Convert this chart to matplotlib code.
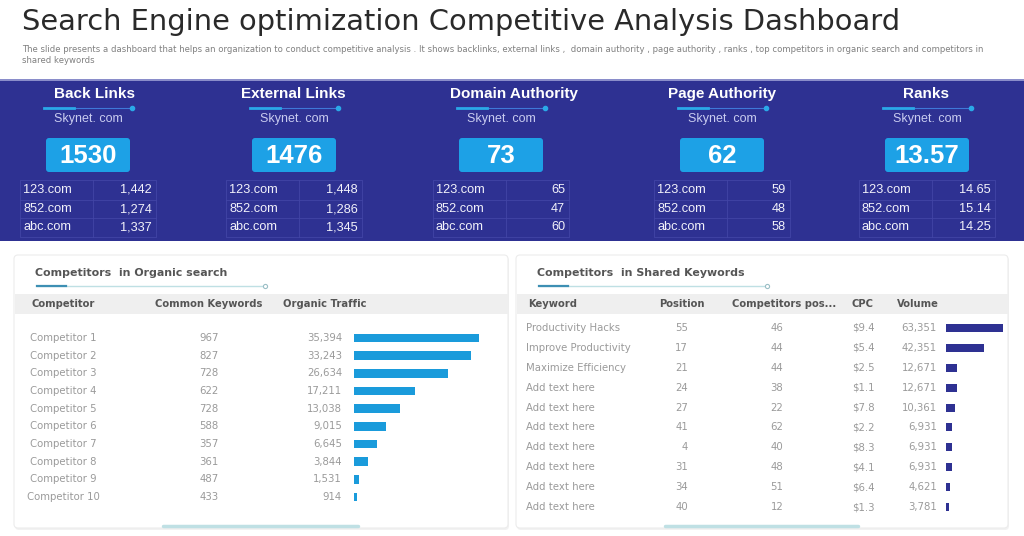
import numpy as np
import matplotlib.pyplot as plt
from matplotlib.patches import FancyBboxPatch, Rectangle

W, H = 1024, 536

title = "Search Engine optimization Competitive Analysis Dashboard"
subtitle = ("The slide presents a dashboard that helps an organization to conduct competitive analysis . It shows backlinks, "
            "external links ,  domain authority , page authority , ranks , top competitors in organic search and competitors in\n"
            "shared keywords")

# metric tiles on the blue band
metric_names = ["Back Links", "External Links", "Domain Authority", "Page Authority", "Ranks"]
own_site = "Skynet. com"
own_values = [1530, 1476, 73, 62, 13.57]
rival_sites = ["123.com", "852.com", "abc.com"]
rival_back = [1442, 1274, 1337]
rival_ext = [1448, 1286, 1345]
rival_da = [65, 47, 60]
rival_pa = [59, 48, 58]
rival_rank = [14.65, 15.14, 14.25]

# competitors in organic search
competitors = ["Competitor 1", "Competitor 2", "Competitor 3", "Competitor 4", "Competitor 5",
               "Competitor 6", "Competitor 7", "Competitor 8", "Competitor 9", "Competitor 10"]
common_keywords = [967, 827, 728, 622, 728, 588, 357, 361, 487, 433]
organic_traffic = [35394, 33243, 26634, 17211, 13038, 9015, 6645, 3844, 1531, 914]

# competitors in shared keywords
keywords = ["Productivity Hacks", "Improve Productivity", "Maximize Efficiency", "Add text here",
            "Add text here", "Add text here", "Add text here", "Add text here", "Add text here", "Add text here"]
position = [55, 17, 21, 24, 27, 41, 4, 31, 34, 40]
comp_position = [46, 44, 44, 38, 22, 62, 40, 48, 51, 12]
cpc = [9.4, 5.4, 2.5, 1.1, 7.8, 2.2, 8.3, 4.1, 6.4, 1.3]
volume = [63351, 42351, 12671, 12671, 10361, 6931, 6931, 6931, 4621, 3781]

BAND = "#2E3192"
CYAN = "#1DA1E6"
GREY_TXT = "#9a9a9a"
HEAD_TXT = "#555555"
ARIAL = "Liberation Sans"

fig = plt.figure(figsize=(W / 100, H / 100), dpi=100)
ax = fig.add_axes([0, 0, 1, 1])
ax.set_xlim(0, W)
ax.set_ylim(H, 0)
ax.axis("off")

# title + description
ax.text(22, 22, title, fontsize=20.8, color="#2a2a2a", va="center", ha="left")
ax.text(22, 55, subtitle, fontsize=6.1, color="#808080", va="center", ha="left", linespacing=1.3)

# blue band
ax.add_patch(Rectangle((0, 79), W, 162, fc=BAND, ec="none"))
ax.plot([0, W], [79.5, 79.5], color="#9da0d6", lw=1.2)

head_x = [95, 293, 514, 722, 926]
body_x = [88, 294, 501, 722, 927]
rival_all = [rival_back, rival_ext, rival_da, rival_pa, rival_rank]


def fmt_num(v):
    if isinstance(v, float):
        return f"{v:.2f}"
    return f"{v:,}"


row_y = [190, 209, 227]
for i, name in enumerate(metric_names):
    hc, bc = head_x[i], body_x[i]
    ax.text(hc, 94, name, fontsize=11, fontweight="bold", color="white", ha="center", va="center", family=ARIAL)
    # little slider under heading
    ax.plot([bc - 44, bc + 44], [108, 108], color="#3f78d8", lw=0.8)
    ax.plot([bc - 44, bc - 14], [108, 108], color="#2aa9e8", lw=2)
    ax.plot(bc + 44, 108, "o", ms=3, color="#2aa9e8")
    ax.text(bc, 119, own_site, fontsize=9, color="#c9ccf0", ha="center", va="center", family=ARIAL)
    ax.add_patch(FancyBboxPatch((bc - 42, 138), 84, 34, boxstyle="round,pad=0,rounding_size=3",
                                fc=CYAN, ec="none"))
    main = f"{own_values[i]:.2f}" if isinstance(own_values[i], float) else str(own_values[i])
    ax.text(bc, 156, main, fontsize=18.5, fontweight="bold", color="white", ha="center", va="center", family=ARIAL)
    # small rival table
    left, right = bc - 68, bc + 68
    ax.add_patch(Rectangle((left, 180), right - left, 57, fc="none", ec="#4245a6", lw=0.6))
    for yy in [199.5, 218]:
        ax.plot([left, right], [yy, yy], color="#4245a6", lw=0.6)
    ax.plot([left + 73, left + 73], [180, 237], color="#4245a6", lw=0.6)
    for j, site in enumerate(rival_sites):
        ax.text(left + 3, row_y[j], site, fontsize=9.2, color="#f2f2fa", ha="left", va="center", family=ARIAL)
        ax.text(right - 4, row_y[j], fmt_num(rival_all[i][j]), fontsize=9.2, color="#f2f2fa",
                ha="right", va="center", family=ARIAL)


def card(x0, x1, head_txt, header_items):
    ax.add_patch(FancyBboxPatch((x0 + 1, 257), x1 - x0, 273, boxstyle="round,pad=0,rounding_size=4",
                                fc="#f2f2f2", ec="none"))
    ax.add_patch(FancyBboxPatch((x0, 255), x1 - x0, 273, boxstyle="round,pad=0,rounding_size=4",
                                fc="white", ec="#ececec", lw=0.8))
    ax.text(x0 + 21, 273, head_txt, fontsize=7.9, fontweight="bold", color=HEAD_TXT, ha="left", va="center")
    ax.plot([x0 + 23, x0 + 251], [286, 286], color="#bfe0e4", lw=1)
    ax.plot([x0 + 23, x0 + 52], [286, 286], color="#3d8fb3", lw=1.6)
    ax.plot(x0 + 251, 286, "o", ms=3, mfc="white", mec="#9bbfc6", mew=0.8)
    ax.add_patch(Rectangle((x0 + 1, 294), x1 - x0 - 1, 20, fc="#efefef", ec="none"))
    for tx, txt, ha in header_items:
        ax.text(tx, 304, txt, fontsize=7.2, fontweight="bold", color=HEAD_TXT, ha=ha, va="center")


def bar_axes(x0, x1, y_first, y_last, n):
    step = (y_last - y_first) / (n - 1)
    top, bot = y_first - step / 2, y_last + step / 2
    a = fig.add_axes([x0 / W, 1 - bot / H, (x1 - x0) / W, (bot - top) / H])
    a.set_ylim(n - 0.5, -0.5)
    a.axis("off")
    return a


# left card: organic search
card(14, 508, "Competitors  in Organic search",
     [(31, "Competitor", "left"), (155, "Common Keywords", "left"), (283, "Organic Traffic", "left")])
n = len(competitors)
ly = np.linspace(338, 497, n)
for k in range(n):
    ax.text(63, ly[k], competitors[k], fontsize=7.3, color=GREY_TXT, ha="center", va="center")
    ax.text(209, ly[k], str(common_keywords[k]), fontsize=7.3, color=GREY_TXT, ha="center", va="center")
    ax.text(342, ly[k], f"{organic_traffic[k]:,}", fontsize=7.3, color=GREY_TXT, ha="right", va="center")
bl = bar_axes(354, 479, 338, 497, n)
bl.barh(np.arange(n), organic_traffic, height=0.5, color="#1A9BDB")
bl.set_xlim(0, max(organic_traffic))
ax.plot([163, 358], [526, 526], color="#bfe0e4", lw=2.5, solid_capstyle="round")

# right card: shared keywords
card(516, 1008, "Competitors  in Shared Keywords",
     [(528, "Keyword", "left"), (682, "Position", "center"), (784, "Competitors pos...", "center"),
      (863, "CPC", "center"), (918, "Volume", "center")])
m = len(keywords)
ry = np.linspace(328, 507, m)
for k in range(m):
    ax.text(526, ry[k], keywords[k], fontsize=7.3, color=GREY_TXT, ha="left", va="center")
    ax.text(688, ry[k], str(position[k]), fontsize=7.3, color=GREY_TXT, ha="right", va="center")
    ax.text(777, ry[k], str(comp_position[k]), fontsize=7.3, color=GREY_TXT, ha="center", va="center")
    ax.text(863, ry[k], f"${cpc[k]}", fontsize=7.3, color=GREY_TXT, ha="center", va="center")
    ax.text(937, ry[k], f"{volume[k]:,}", fontsize=7.3, color=GREY_TXT, ha="right", va="center")
br = bar_axes(946, 1003, 328, 507, m)
br.barh(np.arange(m), volume, height=0.4, color=BAND)
br.set_xlim(0, max(volume))
ax.plot([665, 858], [526, 526], color="#bfe0e4", lw=2.5, solid_capstyle="round")

fig.savefig("out.png", dpi=100, facecolor="white")
